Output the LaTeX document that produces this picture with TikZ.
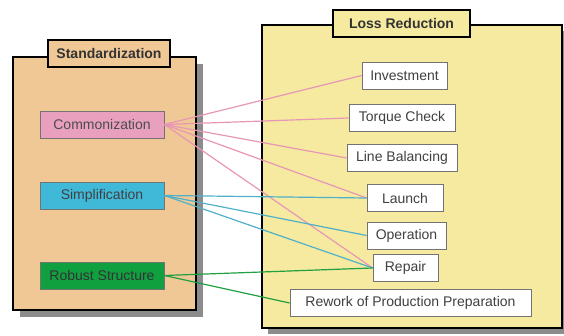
\documentclass[tikz,border=0pt]{standalone}
\usepackage{fontspec}
\setmainfont{Liberation Sans}
\usepackage{xcolor}
\usepackage{tikz}
\usetikzlibrary{positioning}

\definecolor{peach}{RGB}{240,200,150}
\definecolor{paleyellow}{RGB}{245,234,160}
\definecolor{boxpink}{RGB}{232,160,190}
\definecolor{boxcyan}{RGB}{64,184,216}
\definecolor{boxgreen}{RGB}{16,160,64}
\definecolor{linepink}{RGB}{232,150,182}
\definecolor{lineteal}{RGB}{80,176,200}
\definecolor{linegreen}{RGB}{32,160,64}

\tikzset{
    group/.style={draw=black, line width=1.6pt},
    grouptitle/.style={draw=black, line width=1.4pt, inner sep=0pt, minimum height=27pt,
        font=\fontsize{14}{16}\selectfont\bfseries, text=black!80},
    item/.style={draw=black!55, line width=0.8pt, inner sep=0pt, minimum height=27pt,
        font=\fontsize{14}{16}\selectfont, text=black!75},
    link/.style={line width=1.2pt}
}

\begin{document}
\begin{tikzpicture}[x=1pt, y=-1pt]
        \useasboundingbox (0,0) rectangle (564,336);

        % Group 1: Standardization
        \fill[black!45] (20,64) rectangle (203,317);
        \filldraw[group, fill=peach] (13,57) rectangle (196,310);
        \node[grouptitle, fill=peach, minimum width=122pt] (stdtitle) at (109,53.5) {Standardization};

        \node[item, fill=boxpink, minimum width=124pt, text=black!70] (com) at (102,124.5) {Commonization};
        \node[item, fill=boxcyan, minimum width=124pt, text=black!75] (sim) at (102,195.5) {Simplification};
        \node[item, fill=boxgreen, minimum width=124pt, text=black!80] (rob) at (102,275.5) {Robust Structure};

        % Group 2: Loss Reduction
        \fill[black!45] (268,31) rectangle (564,334);
        \filldraw[group, fill=paleyellow] (262,25) rectangle (562,328);
        \node[grouptitle, fill=paleyellow, minimum width=137pt] (losstitle) at (401.5,23.5) {Loss Reduction};

        \node[item, fill=white, minimum width=85pt] (inv) at (404.5,75.5) {Investment};
        \node[item, fill=white, minimum width=106pt] (tor) at (402,118) {Torque Check};
        \node[item, fill=white, minimum width=110pt] (lin) at (402,158) {Line Balancing};
        \node[item, fill=white, minimum width=76pt] (lau) at (405,198) {Launch};
        \node[item, fill=white, minimum width=79pt] (ope) at (406.5,235.5) {Operation};
        \node[item, fill=white, minimum width=65pt] (rep) at (405.5,268) {Repair};
        \node[item, fill=white, minimum width=241pt] (rew) at (410.5,303) {Rework of Production Preparation};

        % Links
        \foreach \t in {inv,tor,lin,lau,rep}
            \draw[link, linepink] (com.east) -- (\t.west);
        \foreach \t in {lau,ope,rep}
            \draw[link, lineteal] (sim.east) -- (\t.west);
        \foreach \t in {rep,rew}
            \draw[link, linegreen] (rob.east) -- (\t.west);
    \end{tikzpicture}
\end{document}
